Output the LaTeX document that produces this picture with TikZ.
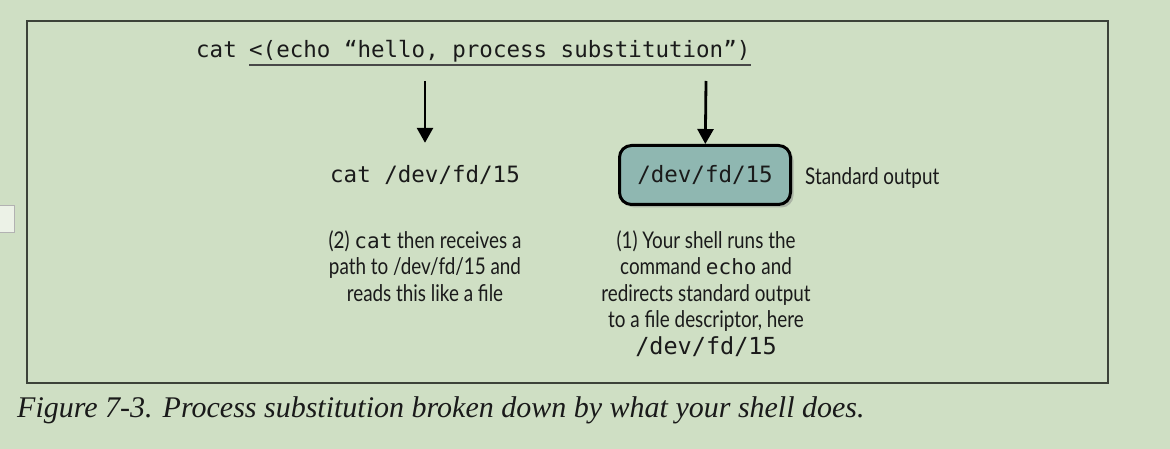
\documentclass[tikz,border=0pt]{standalone}
\usepackage{fontspec}
\setmainfont{Lato}[FakeStretch=0.82]
\setmonofont{DejaVu Sans Mono}
\newfontfamily\captionfont{Liberation Serif}
\usetikzlibrary{arrows.meta,shadows}
\newcommand{\cmdtt}[1]{{\ttfamily\fontsize{21}{26}\selectfont #1}}

\definecolor{bggreen}{HTML}{CFDFC4}
\definecolor{boxteal}{HTML}{8FB7B1}
\definecolor{framegray}{HTML}{3C4239}
\definecolor{ink}{HTML}{1A1A1A}

\tikzset{
    mono/.style={font=\ttfamily\fontsize{22.5}{27}\selectfont, inner sep=0pt, text=ink},
    note/.style={font=\fontsize{23}{26.5}\selectfont, align=center, inner sep=0pt, text=ink},
    arr/.style={-{Triangle[width=16pt,length=15pt]}, line width=2.8pt},
    fdbox/.style={draw, line width=3pt, rounded corners=12pt, fill=boxteal,
        minimum width=171pt, minimum height=59pt,
        drop shadow={opacity=0.45, shadow xshift=3pt, shadow yshift=-3pt}},
}

\begin{document}
\begin{tikzpicture}[x=1pt, y=-1pt]
    \fill[bggreen] (0,0) rectangle (1170,449);
    \useasboundingbox (0,0) rectangle (1170,449);
    \draw[gray!60, fill=white!60!bggreen] (-2,205) rectangle (14,232);
    \draw[framegray, line width=1.5pt] (27,21) rectangle (1108,383);

    % command line
    \node[mono, anchor=base west] (cmd) at (196,58) {cat};
    \node[mono, anchor=base west] (subst) at (249,58) {<(echo “hello, process substitution”)};
    \draw[ink!80, line width=2pt] ([yshift=-7pt]subst.base west) -- ([yshift=-7pt]subst.base east);

    \coordinate (top1) at (425,81);
    \coordinate (top2) at (706,81);
    \node[mono, minimum height=64pt] (catfd) at (425,175) {cat /dev/fd/15};
    \node[mono, fdbox] (fd) at (705,175) {/dev/fd/15};
    \node[note, anchor=west] (stdout) at (805,178) {Standard output};

    \draw[arr] (top1) -- (catfd);
    \draw[arr] (top2) -- (fd);

    \node[note, anchor=north] (step2) at (425,230)
        {(2) \cmdtt{cat} then receives a\\ path to /dev/fd/15 and\\ reads this like a file};
    \node[note, anchor=north] (step1) at (706,230)
        {(1) Your shell runs the\\ command \cmdtt{echo} and\\ redirects standard output\\
         to a file descriptor, here\\ {\ttfamily\fontsize{23.5}{27}\selectfont /dev/fd/15}};

    \node[anchor=base west, inner sep=0pt, text=ink] (caption) at (17,417)
        {\captionfont\itshape\fontsize{30}{33}\selectfont Figure 7-3. Process substitution broken down by what your shell does.};
\end{tikzpicture}
\end{document}
